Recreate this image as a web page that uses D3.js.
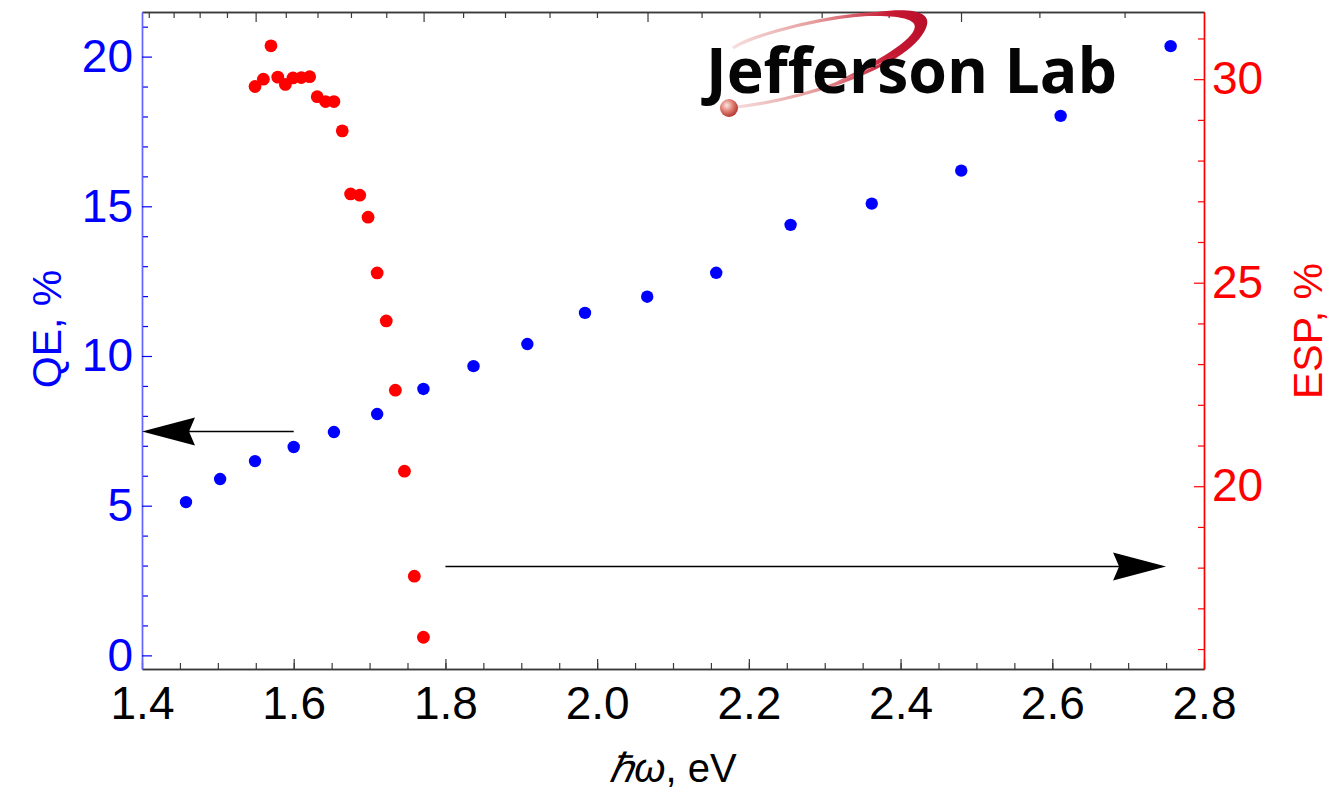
<!DOCTYPE html>
<html>
<head>
<meta charset="utf-8">
<script src="https://cdn.jsdelivr.net/npm/d3@7"></script>
<style>
  html, body { margin: 0; padding: 0; background: #fff; }
  svg { display: block; font-family: "Liberation Sans", Arial, sans-serif; }
</style>
</head>
<body>
<svg id="chart" width="1333" height="797"></svg>
<script>
// photon energy (eV) and quantum efficiency (%)
const energyQE = [1.458, 1.503, 1.549, 1.600, 1.653, 1.710, 1.771, 1.837, 1.908, 1.984,
  2.066, 2.157, 2.255, 2.362, 2.480, 2.611, 2.756];
const qeValues = [5.12, 5.89, 6.49, 6.96, 7.46, 8.06, 8.90, 9.66, 10.40, 11.44,
  11.98, 12.78, 14.38, 15.09, 16.19, 18.02, 20.35];

// photon energy (eV) and electron spin polarization (%)
const energyESP = [1.549, 1.560, 1.570, 1.579, 1.589, 1.599, 1.610, 1.621, 1.631, 1.642,
  1.653, 1.664, 1.675, 1.687, 1.698, 1.710, 1.722, 1.734, 1.746, 1.759, 1.771];
const espValues = [29.82, 30.00, 30.82, 30.05, 29.87, 30.03, 30.04, 30.06, 29.57, 29.45,
  29.45, 28.73, 27.18, 27.15, 26.61, 25.24, 24.06, 22.36, 20.37, 17.79, 16.29];

// tick values
const xTicks = [1.4, 1.6, 1.8, 2.0, 2.2, 2.4, 2.6, 2.8];
const qeTicks = [0, 5, 10, 15, 20];
const espTicks = [20, 25, 30];
const wavelengthMajor = [800, 700, 600, 500]; // nm, unlabelled top frame ticks

// arrows pointing to the axis each series belongs to
const arrowQE = { from: 1.6, to: 1.4, value: 7.48 };
const arrowESP = { from: 1.8, to: 2.75, value: 18.03 };

const W = 1333, H = 797;
const margin = { top: 12, right: 129, bottom: 128, left: 142 };
const iw = W - margin.left - margin.right;
const ih = H - margin.top - margin.bottom;

const svg = d3.select("#chart");

const x = d3.scaleLinear().domain([1.4, 2.8]).range([0, iw]);
const yQE = d3.scaleLinear().domain([-0.455, 21.49]).range([ih, 0]);
const yESP = d3.scaleLinear().domain([15.51, 31.65]).range([ih, 0]);

const g = svg.append("g").attr("transform", `translate(${margin.left},${margin.top})`);

const FRAME = "#3a3a3a";
const BLUE = "#0000ff";
const RED = "#ff0000";

// ---------- logo (drawn behind the data) ----------
const defs = svg.append("defs");
const sw = defs.append("linearGradient").attr("id", "swoosh")
  .attr("gradientUnits", "userSpaceOnUse")
  .attr("x1", 725).attr("y1", 0).attr("x2", 930).attr("y2", 0);
sw.append("stop").attr("offset", 0).attr("stop-color", "#f8e4e4");
sw.append("stop").attr("offset", 0.45).attr("stop-color", "#e59a9a");
sw.append("stop").attr("offset", 0.8).attr("stop-color", "#c81a34");
sw.append("stop").attr("offset", 1).attr("stop-color", "#b80d2a");

const ball = defs.append("radialGradient").attr("id", "ball")
  .attr("cx", "38%").attr("cy", "35%").attr("r", "65%");
ball.append("stop").attr("offset", 0).attr("stop-color", "#fbe6e0");
ball.append("stop").attr("offset", 0.55).attr("stop-color", "#de7a6e");
ball.append("stop").attr("offset", 1).attr("stop-color", "#b43a34");

const logo = svg.append("g").attr("class", "logo");
// thin elliptical ring
logo.append("path")
  .attr("d", "M729,108 C770,104 830,90 875,68 C915,48 935,25 918,17 C895,8 830,16 780,30 C755,37 740,43 733,48")
  .attr("fill", "none")
  .attr("stroke", "url(#swoosh)")
  .attr("stroke-width", 3.2);
// thick crescent on the right side
logo.append("path")
  .attr("d", "M850,17 C900,6 935,8 926,28 C918,46 880,66 828,86 C872,64 908,44 914,30 C920,18 895,14 850,17 Z")
  .attr("fill", "url(#swoosh)");
logo.append("text")
  .attr("x", 706)
  .attr("y", 93)
  .attr("textLength", 411)
  .attr("lengthAdjust", "spacingAndGlyphs")
  .style("font-family", "'Open Sans', 'Noto Sans', sans-serif")
  .style("font-weight", 700)
  .style("font-size", "63px")
  .attr("fill", "#050505")
  .text("Jefferson Lab");
logo.append("circle")
  .attr("cx", 729).attr("cy", 108).attr("r", 9)
  .attr("fill", "url(#ball)");

// ---------- frame / axes ----------
function styleAxis(sel, color, lineColor) {
  sel.select(".domain").attr("stroke", lineColor).attr("stroke-width", 1.4);
  sel.selectAll(".tick line").attr("stroke", color).attr("stroke-width", 1.2);
  sel.selectAll(".tick text").attr("fill", color).style("font-size", "46px");
}

const xMinor = d3.range(1.4, 2.8001, 0.05).map(v => +v.toFixed(2));

// bottom
const xAxisMinor = g.append("g").attr("transform", `translate(0,${ih})`)
  .call(d3.axisBottom(x).tickValues(xMinor).tickFormat("").tickSizeInner(-6).tickSizeOuter(0));
styleAxis(xAxisMinor, FRAME, FRAME);
const xAxis = g.append("g").attr("transform", `translate(0,${ih})`)
  .call(d3.axisBottom(x).tickValues(xTicks).tickFormat(d3.format(".1f"))
    .tickSizeInner(-10).tickSizeOuter(0).tickPadding(17));
styleAxis(xAxis, FRAME, FRAME);
xAxis.selectAll(".tick text").attr("fill", "#000");

// top: wavelength ticks (nm -> eV)
const wlMinor = d3.range(880, 459, -20).filter(d => !wavelengthMajor.includes(d));
const topAxisMinor = g.append("g")
  .call(d3.axisTop(x).tickValues(wlMinor.map(d => 1239.84 / d)).tickFormat("")
    .tickSizeInner(-6).tickSizeOuter(0));
styleAxis(topAxisMinor, FRAME, FRAME);
const topAxis = g.append("g")
  .call(d3.axisTop(x).tickValues(wavelengthMajor.map(d => 1239.84 / d)).tickFormat("")
    .tickSizeInner(-10).tickSizeOuter(0));
styleAxis(topAxis, FRAME, FRAME);

// left: QE
const qeMinor = d3.range(0, 22, 1).filter(d => d % 5 !== 0);
const yAxisMinor = g.append("g")
  .call(d3.axisLeft(yQE).tickValues(qeMinor).tickFormat("").tickSizeInner(-6).tickSizeOuter(0));
styleAxis(yAxisMinor, BLUE, "#6464ff");
const yAxis = g.append("g")
  .call(d3.axisLeft(yQE).tickValues(qeTicks).tickFormat(d3.format("d"))
    .tickSizeInner(-10).tickSizeOuter(0).tickPadding(9));
styleAxis(yAxis, BLUE, "#6464ff");

// right: ESP
const espMinor = d3.range(16, 32, 1).filter(d => d % 5 !== 0);
const y2AxisMinor = g.append("g").attr("transform", `translate(${iw},0)`)
  .call(d3.axisRight(yESP).tickValues(espMinor).tickFormat("").tickSizeInner(-6).tickSizeOuter(0));
styleAxis(y2AxisMinor, RED, RED);
const y2Axis = g.append("g").attr("transform", `translate(${iw},0)`)
  .call(d3.axisRight(yESP).tickValues(espTicks).tickFormat(d3.format("d"))
    .tickSizeInner(-10).tickSizeOuter(0).tickPadding(8));
styleAxis(y2Axis, RED, RED);

// the 1.4 frame tick sits over the blue line, as in the original
xAxis.select(".domain").raise();

// ---------- axis titles ----------
svg.append("text")
  .attr("transform", `translate(61,329) rotate(-90)`)
  .attr("text-anchor", "middle")
  .attr("fill", BLUE)
  .style("font-size", "41px")
  .text("QE, %");

svg.append("text")
  .attr("transform", `translate(1322,331) rotate(-90)`)
  .attr("text-anchor", "middle")
  .attr("fill", RED)
  .style("font-size", "41px")
  .text("ESP, %");

const xt = svg.append("text")
  .attr("x", margin.left + iw / 2)
  .attr("y", 782)
  .attr("text-anchor", "middle")
  .attr("fill", "#000")
  .style("font-size", "40px");
xt.append("tspan").style("font-style", "italic").text("ℏω");
xt.append("tspan").text(", eV");

// ---------- arrows ----------
function drawArrow(x0, x1, yv) {
  const dir = Math.sign(x1 - x0);
  const len = 53, half = 14, notch = 6;
  g.append("line")
    .attr("x1", x0).attr("x2", x1 - dir * (len - notch))
    .attr("y1", yv).attr("y2", yv)
    .attr("stroke", "#000").attr("stroke-width", 1.5);
  const p = d3.path();
  p.moveTo(x1, yv);
  p.lineTo(x1 - dir * len, yv - half);
  p.lineTo(x1 - dir * (len - notch), yv);
  p.lineTo(x1 - dir * len, yv + half);
  p.closePath();
  g.append("path").attr("d", p.toString()).attr("fill", "#000");
}
drawArrow(x(arrowQE.from), x(arrowQE.to), yQE(arrowQE.value));
drawArrow(x(arrowESP.from), x(arrowESP.to), yESP(arrowESP.value));

// ---------- points ----------
const espData = energyESP.map((e, i) => ({ e, v: espValues[i] }));
const qeData = energyQE.map((e, i) => ({ e, v: qeValues[i] }));

g.append("g").selectAll("circle")
  .data(espData)
  .join("circle")
  .attr("cx", d => x(d.e))
  .attr("cy", d => yESP(d.v))
  .attr("r", 6.4)
  .attr("fill", RED);

g.append("g").selectAll("circle")
  .data(qeData)
  .join("circle")
  .attr("cx", d => x(d.e))
  .attr("cy", d => yQE(d.v))
  .attr("r", 6.2)
  .attr("fill", BLUE);
</script>
</body>
</html>
